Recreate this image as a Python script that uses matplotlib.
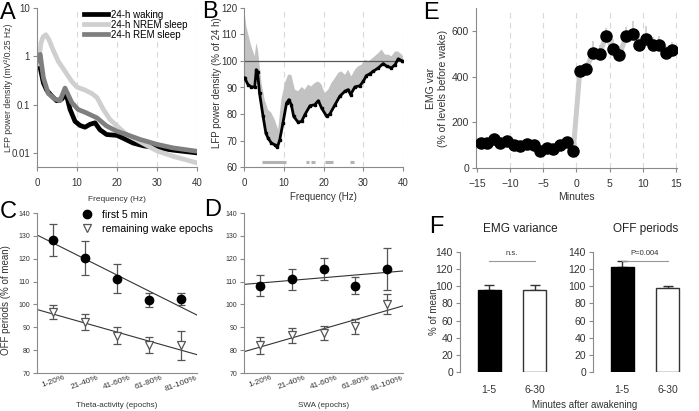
import numpy as np
import matplotlib.pyplot as plt
from matplotlib.lines import Line2D
from matplotlib.transforms import ScaledTranslation

plt.rcParams['font.family'] = ['Liberation Sans', 'DejaVu Sans']
plt.rcParams['font.size'] = 7

# --------------------------------------------------
# Panel A: 24-h LFP spectra (log scale)
# --------------------------------------------------
a_wake_f = [0.25, 0.5, 0.75, 1.6, 2.4, 3.7, 4.9, 6.2, 7.25, 8.25, 9.5, 10.75, 12,
            13.25, 14.5, 15.75, 17.4, 20, 21.6, 24, 26.6, 30, 34, 40]
a_wake = [0.72, 0.82, 0.6, 0.28, 0.2, 0.15, 0.12, 0.13, 0.17, 0.08, 0.045, 0.037,
          0.034, 0.039, 0.042, 0.030, 0.024, 0.023, 0.020, 0.016, 0.014, 0.0127,
          0.0114, 0.010]
a_nrem_f = [0.25, 0.5, 1, 1.5, 2.2, 3, 4, 5.3, 7, 8.7, 10, 12, 13.7, 15, 16.6,
            18.25, 20, 22.4, 25.75, 30, 34, 40]
a_nrem = [0.7, 0.9, 1.9, 2.5, 2.8, 2.2, 1.37, 0.79, 0.49, 0.3, 0.23, 0.2, 0.17,
          0.14, 0.079, 0.049, 0.036, 0.024, 0.017, 0.011, 0.0085, 0.0062]
a_rem_f = [0.25, 0.5, 0.8, 1.6, 2.8, 4.5, 5.75, 7, 8.7, 10.3, 12.4, 15, 17.4, 20,
           22.4, 25.75, 30, 34, 40]
a_rem = [0.8, 1.0, 1.1, 0.36, 0.17, 0.13, 0.12, 0.22, 0.11, 0.079, 0.067, 0.053,
         0.036, 0.028, 0.024, 0.019, 0.015, 0.0127, 0.0108]
a_labels = ['24-h waking', '24-h NREM sleep', '24-h REM sleep']

# --------------------------------------------------
# Panel B: LFP power in first minutes of waking (% of 24 h)
# --------------------------------------------------
b_f = [0.17, 1, 1.85, 2.7, 3.1, 3.4, 3.9, 4.8, 5.5, 6.05, 6.9, 7.7, 8.4, 9, 9.8,
       10.7, 11.3, 11.9, 12.5, 13.6, 14.5, 15.3, 16.6, 17.8, 18.7, 19.5, 20.8,
       21.6, 22.9, 24.1, 25.4, 26.2, 26.8, 27.9, 29.2, 30, 30.8, 31.7, 32.5, 33.8,
       35, 35.9, 37.1, 38, 38.8, 39.7, 40]
b_mean = [93.6, 91.1, 90.2, 90.2, 96.7, 96, 87.9, 79.1, 72.8, 70.9, 69, 68.4, 67.4,
          70.3, 76.6, 84.1, 85.4, 83.5, 79.1, 76.9, 77.2, 79.7, 83.1, 83.5, 85,
          82.3, 79.1, 80, 83.5, 86.7, 88.6, 89.2, 87.3, 90.2, 90.7, 92.3, 94.5,
          95.2, 96.1, 97.4, 99, 98, 97.4, 98.6, 100.8, 100.1, 99.9]
b_up_f = [0.17, 0.6, 1, 1.85, 2.7, 3.1, 3.5, 4.4, 5.2, 6.05, 6.9, 7.7, 8.6, 9.4,
          10.3, 11.1, 11.9, 12.8, 13.6, 14.5, 15.3, 16.1, 16.9, 17.8, 18.7, 19.5,
          20.3, 21.2, 22, 22.9, 23.7, 24.5, 25.4, 26.2, 27, 27.9, 28.7, 29.6, 30.4,
          31.3, 32.1, 32.9, 33.8, 34.6, 35.5, 36.3, 37.1, 38, 38.8, 39.7, 40]
b_upper = [118, 113, 110.5, 105.5, 101.8, 106.8, 104.3, 91.7, 85.4, 81.6, 80.4,
           77.9, 74.1, 85.4, 91.7, 94.8, 94.8, 89.2, 88.6, 90.2, 89.2, 91.1, 90.4,
           91.7, 92.3, 91.1, 87.9, 89.2, 91.7, 93.6, 95.5, 96.1, 94.8, 96.7, 94.2,
           96.7, 98, 98.6, 100.5, 99.9, 100.8, 101.8, 103, 104.3, 102.4, 102.4,
           101.8, 103.6, 103.6, 102.4, 101.8]
b_sig_start = [4.5, 15.5, 16.9, 20.3, 26.6]
b_sig_end = [10.5, 16.4, 17.9, 22.3, 27.7]

# --------------------------------------------------
# Panel E: EMG variance around awakening
# --------------------------------------------------
e_min = [-14.5, -13.5, -12.5, -11.5, -10.5, -9.5, -8.5, -7.5, -6.5, -5.5, -4.5,
         -3.5, -2.5, -1.5, -0.5, 0.5, 1.5, 2.5, 3.5, 4.5, 5.5, 6.5, 7.5, 8.5, 9.5,
         10.5, 11.5, 12.5, 13.5, 14.5]
e_var = [109, 109, 128, 109, 118, 99, 96, 104, 99, 74, 89, 82, 99, 114, 74,
         423, 435, 505, 500, 578, 521, 493, 578, 588, 537, 566, 537, 537, 504, 518]
e_err = [10, 10, 10, 10, 10, 10, 10, 10, 10, 10, 10, 10, 10, 10, 10,
         20, 25, 50, 40, 35, 45, 40, 40, 55, 40, 55, 35, 40, 30, 35]

# --------------------------------------------------
# Panels C, D: OFF periods by theta / SWA quintile
# --------------------------------------------------
quintiles = ['1-20%', '21-40%', '41-60%', '61-80%', '81-100%']
c_first = [128.3, 120.3, 111.3, 102.0, 102.4]
c_first_err = [7.0, 7.5, 6.2, 3.0, 2.5]
c_rest = [96.8, 92.2, 86.3, 82.1, 82.1]
c_rest_err = [3.0, 3.4, 3.8, 3.5, 6.2]
d_first = [108.2, 111.1, 115.5, 108.2, 115.5]
d_first_err = [4.5, 4.6, 5.0, 3.7, 9.0]
d_rest = [82.1, 86.5, 87.5, 90.4, 100.2]
d_rest_err = [3.8, 3.4, 3.2, 3.2, 4.5]

# --------------------------------------------------
# Panel F: bars, minutes after awakening
# --------------------------------------------------
f_groups = ['1-5', '6-30']
f_emg = [95.5, 95.1]
f_emg_err = [5.5, 5.9]
f_off = [123, 98.3]
f_off_err = [6, 2]

W, H = 699, 411
fig = plt.figure(figsize=(W / 100, H / 100), dpi=100)


def add_ax(left, top, right, bottom):
    return fig.add_axes([left / W, 1 - bottom / H, (right - left) / W, (bottom - top) / H])


def style(ax, tsize=7, show_bottom=True):
    for s in ['top', 'right']:
        ax.spines[s].set_visible(False)
    ax.spines['left'].set_color('#8a8a8a')
    ax.spines['bottom'].set_color('#8a8a8a')
    if not show_bottom:
        ax.spines['bottom'].set_visible(False)
    ax.tick_params(colors='#8a8a8a', labelcolor='#333333', length=3, width=0.8,
                   labelsize=tsize, pad=2)


grid_kw = dict(color='#d9d9d9', ls=(0, (5, 4)), lw=0.8, zorder=0)

# ---- A ----
axA = add_ax(37, 8, 197, 167)
style(axA)
for x in [10, 20, 30, 40]:
    axA.axvline(x, **grid_kw)
axA.plot(a_wake_f, a_wake, color='black', lw=3.4, solid_joinstyle='round', label=a_labels[0])
axA.plot(a_nrem_f, a_nrem, color='#cfcfcf', lw=3.4, solid_joinstyle='round', label=a_labels[1])
axA.plot(a_rem_f, a_rem, color='#7f7f7f', lw=3.4, solid_joinstyle='round', label=a_labels[2])
axA.set_yscale('log')
axA.set_ylim(0.0051, 10)
axA.set_xlim(0, 40)
axA.set_yticks([0.01, 0.1, 1, 10])
axA.set_yticklabels(['0.01', '0.1', '1', '10'])
axA.yaxis.set_minor_locator(plt.NullLocator())
axA.set_xticks([0, 10, 20, 30, 40])
axA.tick_params(axis='x', pad=5)
axA.set_xlabel('Frequency (Hz)', fontsize=6, color='#333333', labelpad=6)
axA.legend(loc='upper left', bbox_to_anchor=((84 - 37) / 160, 0.99), frameon=False,
           fontsize=7, handlelength=2.5, handletextpad=0.3, labelspacing=0.0,
           borderpad=0, borderaxespad=0)
fig.text(9 / W, 1 - 88 / H, 'LFP power density (mV²/0.25 Hz)', rotation=90,
         ha='center', va='center', fontsize=6.2, color='#333333')

# ---- B ----
axB = add_ax(244, 8, 403, 167)
style(axB, tsize=7)
for x in [10, 20, 30, 40]:
    axB.axvline(x, **grid_kw)
axB.fill(b_f + b_up_f[::-1], b_mean + b_upper[::-1], facecolor='#c2c2c2',
         edgecolor='none', zorder=1)
axB.axhline(100, color='#555555', lw=0.9, zorder=2)
axB.plot(b_f, b_mean, color='black', lw=2.0, marker='s', ms=2.0, zorder=3)
for s0, s1 in zip(b_sig_start, b_sig_end):
    axB.plot([s0, s1], [61.8, 61.8], color='#b3b3b3', lw=2.2, solid_capstyle='butt')
axB.set_xlim(0, 40)
axB.set_ylim(60, 120)
axB.set_xticks([0, 10, 20, 30, 40])
axB.set_yticks(range(60, 121, 10))
axB.tick_params(axis='x', pad=5)
axB.set_xlabel('Frequency (Hz)', fontsize=7, color='#333333', labelpad=3)
fig.text(217 / W, 1 - 83 / H, 'LFP power density (% of 24 h)', rotation=90,
         ha='center', va='center', fontsize=7, color='#333333')

# ---- E ----
axE = add_ax(476, 8, 677, 168)
style(axE, tsize=7.5)
for x in [-10, -5, 0, 5, 10, 15]:
    axE.axvline(x, **grid_kw)
axE.errorbar(e_min, e_var, yerr=[np.zeros(len(e_err)), e_err], fmt='none',
             ecolor='#cccccc', elinewidth=1.2, zorder=1)
axE.plot(e_min, e_var, color='#cccccc', lw=3.6, zorder=2)
axE.plot(e_min, e_var, 'o', color='black', ms=8, zorder=3)
axE.set_xlim(-15.2, 15.2)
axE.set_ylim(0, 700)
axE.set_xticks([-15, -10, -5, 0, 5, 10, 15])
axE.set_yticks([0, 200, 400, 600])
axE.tick_params(axis='x', pad=5)
axE.set_xlabel('Minutes', fontsize=7.5, color='#333333', labelpad=2)
fig.text(431 / W, 1 - 88 / H, 'EMG var', rotation=90, ha='center', va='center',
         fontsize=7.5, color='#333333')
fig.text(443 / W, 1 - 88 / H, '(% of levels before wake)', rotation=90,
         ha='center', va='center', fontsize=7.5, color='#333333')

# ---- C, D ----
xq = np.arange(len(quintiles))
xfit = np.array([-0.5, 4.5])
shift = ScaledTranslation(-7 / 100, 0, fig.dpi_scale_trans)


def quintile_panel(ax, first, first_err, rest, rest_err, xlabel):
    style(ax, tsize=5)
    for vals in (first, rest):
        coef = np.polyfit(xq, vals, 1)
        ax.plot(xfit, np.polyval(coef, xfit), color='#333333', lw=0.8, zorder=1)
    ax.errorbar(xq, first, yerr=first_err, fmt='o', color='black', ms=6,
                ecolor='#555555', elinewidth=0.9, capsize=3, capthick=0.9, zorder=3)
    ax.errorbar(xq, rest, yerr=rest_err, fmt='v', mfc='white', mec='#555555',
                mew=0.9, ms=6, ecolor='#555555', elinewidth=0.9, capsize=3,
                capthick=0.9, zorder=3)
    ax.set_xlim(-0.5, 4.5)
    ax.set_ylim(70, 140)
    ax.set_yticks(range(70, 141, 10))
    ax.set_xticks(xq)
    ax.set_xticklabels(quintiles, rotation=20, ha='center', fontsize=6)
    for lab in ax.get_xticklabels():
        lab.set_transform(lab.get_transform() + shift)
    ax.tick_params(axis='x', length=0, pad=1)
    ax.set_xlabel(xlabel, fontsize=5.8, color='#333333', labelpad=7)


axC = add_ax(37, 213, 197, 373)
quintile_panel(axC, c_first, c_first_err, c_rest, c_rest_err, 'Theta-activity (epochs)')
fig.text(6 / W, 1 - 300 / H, 'OFF periods (% of mean)', rotation=90, ha='center',
         va='center', fontsize=7, color='#333333')
handles = [Line2D([], [], ls='none', marker='o', color='black', ms=6),
           Line2D([], [], ls='none', marker='v', mfc='white', mec='#555555', mew=0.9, ms=6)]
axC.legend(handles, ['first 5 min', 'remaining wake epochs'], loc='upper left',
           bbox_to_anchor=((82 - 37) / 160, 1.02), frameon=False, fontsize=7.6,
           handlelength=1, handletextpad=0.9, labelspacing=0.4, borderpad=0,
           borderaxespad=0)

axD = add_ax(244, 213, 403, 373)
quintile_panel(axD, d_first, d_first_err, d_rest, d_rest_err, 'SWA (epochs)')

# ---- F ----
xf = np.arange(len(f_groups))


def bar_panel(ax, means, errs, sig_text, title_x, title):
    style(ax, tsize=7.5, show_bottom=False)
    ax.bar(xf, means, width=0.5, color=['black', 'white'], edgecolor=['black', '#333333'],
           lw=1, zorder=2)
    ax.errorbar(xf, means, yerr=[np.zeros(len(errs)), errs], fmt='none',
                ecolor='#333333', elinewidth=1, capsize=3.5, capthick=1, zorder=1)
    ax.plot([0, 1], [130, 130], color='#999999', lw=0.8)
    ax.text(0.5, 134, sig_text, ha='center', va='bottom', fontsize=5.5, color='#333333')
    ax.set_ylim(0, 140)
    ax.set_xlim(-0.64, 1.6)
    ax.set_yticks(range(0, 141, 20))
    ax.set_xticks(xf)
    ax.set_xticklabels(f_groups)
    ax.tick_params(axis='x', length=0, pad=9)
    fig.text(title_x / W, 1 - 229 / H, title, ha='center', va='center', fontsize=8.5,
             color='#222222')


axF1 = add_ax(460, 252, 562, 372)
bar_panel(axF1, f_emg, f_emg_err, 'n.s.', 520, 'EMG variance')
axF2 = add_ax(593, 252, 695, 372)
bar_panel(axF2, f_off, f_off_err, 'P=0.004', 646, 'OFF periods')
fig.text(434 / W, 1 - 312 / H, '% of mean', rotation=90, ha='center', va='center',
         fontsize=7, color='#333333')
fig.text(585 / W, 1 - 405 / H, 'Minutes after awakening', ha='center', va='center',
         fontsize=7, color='#333333')

# ---- panel letters ----
for letter, x, y in [('A', 0, 2), ('B', 202, 1), ('E', 423, 2), ('C', 0, 201),
                     ('D', 204, 199), ('F', 429, 216)]:
    fig.text(x / W, 1 - y / H, letter, ha='left', va='top', fontsize=17, color='black')

fig.savefig('out.png', dpi=100)
